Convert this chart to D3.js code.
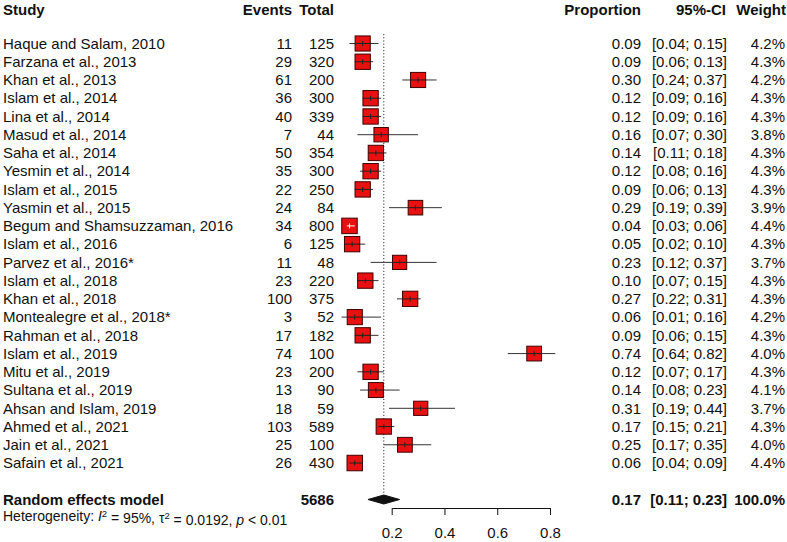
<!DOCTYPE html>
<html>
<head>
<meta charset="utf-8">
<script src="https://cdn.jsdelivr.net/npm/d3@7"></script>
<style>
  body { margin: 0; background: #fff; }
  svg text { font-family: "Liberation Sans", Arial, sans-serif; fill: #111; }
</style>
</head>
<body>
<div id="forest"></div>
<script>
const studies = [
  "Haque and Salam, 2010", "Farzana et al., 2013", "Khan et al., 2013",
  "Islam et al., 2014", "Lina et al., 2014", "Masud et al., 2014",
  "Saha et al., 2014", "Yesmin et al., 2014", "Islam et al., 2015",
  "Yasmin et al., 2015", "Begum and Shamsuzzaman, 2016", "Islam et al., 2016",
  "Parvez et al., 2016*", "Islam et al., 2018", "Khan et al., 2018",
  "Montealegre et al., 2018*", "Rahman et al., 2018", "Islam et al., 2019",
  "Mitu et al., 2019", "Sultana et al., 2019", "Ahsan and Islam, 2019",
  "Ahmed et al., 2021", "Jain et al., 2021", "Safain et al., 2021"
];
const events = [11, 29, 61, 36, 40, 7, 50, 35, 22, 24, 34, 6, 11, 23, 100, 3, 17, 74, 23, 13, 18, 103, 25, 26];
const totals = [125, 320, 200, 300, 339, 44, 354, 300, 250, 84, 800, 125, 48, 220, 375, 52, 182, 100, 200, 90, 59, 589, 100, 430];
const proportion = [0.09, 0.09, 0.30, 0.12, 0.12, 0.16, 0.14, 0.12, 0.09, 0.29, 0.04, 0.05, 0.23, 0.10, 0.27, 0.06, 0.09, 0.74, 0.12, 0.14, 0.31, 0.17, 0.25, 0.06];
const lower = [0.04, 0.06, 0.24, 0.09, 0.09, 0.07, 0.11, 0.08, 0.06, 0.19, 0.03, 0.02, 0.12, 0.07, 0.22, 0.01, 0.06, 0.64, 0.07, 0.08, 0.19, 0.15, 0.17, 0.04];
const upper = [0.15, 0.13, 0.37, 0.16, 0.16, 0.30, 0.18, 0.16, 0.13, 0.39, 0.06, 0.10, 0.37, 0.15, 0.31, 0.16, 0.15, 0.82, 0.17, 0.23, 0.44, 0.21, 0.35, 0.09];
const weight = [4.2, 4.3, 4.2, 4.3, 4.3, 3.8, 4.3, 4.3, 4.3, 3.9, 4.4, 4.3, 3.7, 4.3, 4.3, 4.2, 4.3, 4.0, 4.3, 4.1, 3.7, 4.3, 4.0, 4.4];

const pooled = { label: "Random effects model", total: 5686, est: 0.17, lo: 0.11, hi: 0.23, weight: "100.0%" };
const axisTicks = [0.2, 0.4, 0.6, 0.8];

const width = 787, height = 542;
const fs = 15;

const svg = d3.select("#forest").append("svg")
  .attr("width", width).attr("height", height);

const x = d3.scaleLinear().domain([0.2, 0.8]).range([391.7, 550]);
const y = d3.scaleLinear().domain([0, 1]).range([43.5, 43.5 + 18.24]);
const size = d3.scaleSqrt().domain([0, 4.4]).range([0, 15.5]);

const rows = studies.map((s, i) => ({
  study: s, ev: events[i], n: totals[i], p: proportion[i],
  lo: lower[i], hi: upper[i], w: weight[i], i: i
}));

// header
const header = svg.append("g").attr("font-weight", "bold").attr("font-size", fs);
header.append("text").attr("x", 3).attr("y", 10).attr("dy", "0.35em").text("Study");
header.append("text").attr("x", 292).attr("y", 10).attr("dy", "0.35em").attr("text-anchor", "end").text("Events");
header.append("text").attr("x", 334).attr("y", 10).attr("dy", "0.35em").attr("text-anchor", "end").text("Total");
header.append("text").attr("x", 641).attr("y", 10).attr("dy", "0.35em").attr("text-anchor", "end").text("Proportion");
header.append("text").attr("x", 726).attr("y", 10).attr("dy", "0.35em").attr("text-anchor", "end").text("95%-CI");
header.append("text").attr("x", 786).attr("y", 10).attr("dy", "0.35em").attr("text-anchor", "end").text("Weight");

// text columns
const rowG = svg.append("g").attr("font-size", fs)
  .selectAll("g").data(rows).join("g")
  .attr("transform", (d) => `translate(0,${y(d.i)})`);

rowG.append("text").attr("x", 3).attr("dy", "0.35em").text((d) => d.study);
rowG.append("text").attr("x", 292).attr("dy", "0.35em").attr("text-anchor", "end").text((d) => d.ev);
rowG.append("text").attr("x", 334).attr("dy", "0.35em").attr("text-anchor", "end").text((d) => d.n);
rowG.append("text").attr("x", 641).attr("dy", "0.35em").attr("text-anchor", "end").text((d) => d.p.toFixed(2));
rowG.append("text").attr("x", 727).attr("dy", "0.35em").attr("text-anchor", "end")
  .text((d) => `[${d.lo.toFixed(2)}; ${d.hi.toFixed(2)}]`);
rowG.append("text").attr("x", 785).attr("dy", "0.35em").attr("text-anchor", "end").text((d) => d.w.toFixed(1) + "%");

// reference line at pooled estimate
const yPool = y(25);
svg.append("line")
  .attr("x1", x(pooled.est)).attr("x2", x(pooled.est))
  .attr("y1", 34).attr("y2", yPool - 5)
  .attr("stroke", "#333").attr("stroke-width", 1).attr("stroke-dasharray", "1.2,2");

// study CIs and squares
const marks = svg.append("g").selectAll("g").data(rows).join("g")
  .attr("transform", (d) => `translate(0,${y(d.i)})`);

marks.append("line")
  .attr("x1", (d) => x(d.lo)).attr("x2", (d) => x(d.hi))
  .attr("stroke", "#333").attr("stroke-width", 1);

marks.append("rect")
  .attr("x", (d) => x(d.p) - size(d.w) / 2)
  .attr("y", (d) => -size(d.w) / 2)
  .attr("width", (d) => size(d.w))
  .attr("height", (d) => size(d.w))
  .attr("fill", "#e81010").attr("stroke", "#400000").attr("stroke-width", 1);

// line inside square: white when the CI fits inside the square
const inside = (d) => x(d.lo) >= x(d.p) - size(d.w) / 2 && x(d.hi) <= x(d.p) + size(d.w) / 2;
marks.append("line")
  .attr("x1", (d) => Math.max(x(d.lo), x(d.p) - size(d.w) / 2))
  .attr("x2", (d) => Math.min(x(d.hi), x(d.p) + size(d.w) / 2))
  .attr("stroke", (d) => (inside(d) ? "#fff" : "#222")).attr("stroke-width", 1);
marks.append("line")
  .attr("x1", (d) => x(d.p)).attr("x2", (d) => x(d.p))
  .attr("y1", -2.5).attr("y2", 2.5)
  .attr("stroke", (d) => (inside(d) ? "#fff" : "#222")).attr("stroke-width", 1);

// pooled row
const pool = svg.append("g").attr("transform", `translate(0,${yPool})`)
  .attr("font-size", fs).attr("font-weight", "bold");
pool.append("text").attr("x", 3).attr("dy", "0.35em").text(pooled.label);
pool.append("text").attr("x", 334).attr("dy", "0.35em").attr("text-anchor", "end").text(pooled.total);
pool.append("text").attr("x", 641).attr("dy", "0.35em").attr("text-anchor", "end").text(pooled.est.toFixed(2));
pool.append("text").attr("x", 727).attr("dy", "0.35em").attr("text-anchor", "end")
  .text(`[${pooled.lo.toFixed(2)}; ${pooled.hi.toFixed(2)}]`);
pool.append("text").attr("x", 785).attr("dy", "0.35em").attr("text-anchor", "end").text(pooled.weight);

svg.append("path")
  .attr("d", `M${x(pooled.lo)},${yPool} L${x(pooled.est)},${yPool - 4.5} L${x(pooled.hi)},${yPool} L${x(pooled.est)},${yPool + 4.5} Z`)
  .attr("fill", "#111").attr("stroke", "#111");

// heterogeneity
const het = svg.append("text").attr("x", 3).attr("y", 516).attr("dy", "0.35em").attr("font-size", 14);
het.append("tspan").text("Heterogeneity: ");
het.append("tspan").attr("font-style", "italic").text("I");
het.append("tspan").attr("dy", "-0.45em").attr("font-size", 9.5).text("2");
het.append("tspan").attr("dy", "0.45em").text(" = 95%, \u03c4");
het.append("tspan").attr("dy", "-0.45em").attr("font-size", 9.5).text("2");
het.append("tspan").attr("dy", "0.45em").text(" = 0.0192, ");
het.append("tspan").attr("font-style", "italic").text("p");
het.append("tspan").text(" < 0.01");

// axis
const axis = svg.append("g").attr("transform", "translate(0,508)")
  .call(d3.axisBottom(x).tickValues(axisTicks).tickSize(7).tickSizeOuter(0).tickPadding(12)
    .tickFormat(d3.format(".1f")));
axis.selectAll("text").attr("font-size", fs).attr("font-family", "Liberation Sans, Arial, sans-serif").attr("fill", "#111");
axis.selectAll("line, path").attr("stroke", "#111");
</script>
</body>
</html>
